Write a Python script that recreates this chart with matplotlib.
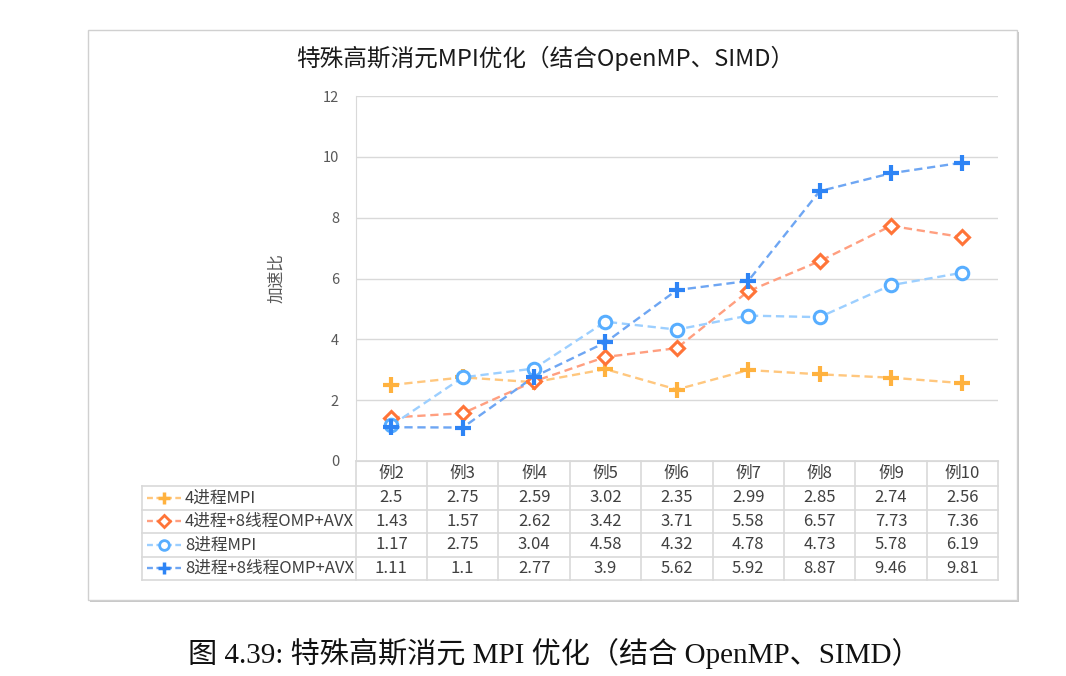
import matplotlib
matplotlib.use("Agg")
import matplotlib.pyplot as plt
from matplotlib.patches import Rectangle
from matplotlib.lines import Line2D

plt.rcParams['font.family'] = ['Noto Sans CJK SC', 'DejaVu Sans']

cases = ["例2", "例3", "例4", "例5", "例6", "例7", "例8", "例9", "例10"]
series_names = ["4进程MPI", "4进程+8线程OMP+AVX", "8进程MPI", "8进程+8线程OMP+AVX"]
mpi4 = [2.5, 2.75, 2.59, 3.02, 2.35, 2.99, 2.85, 2.74, 2.56]
mpi4_omp_avx = [1.43, 1.57, 2.62, 3.42, 3.71, 5.58, 6.57, 7.73, 7.36]
mpi8 = [1.17, 2.75, 3.04, 4.58, 4.32, 4.78, 4.73, 5.78, 6.19]
mpi8_omp_avx = [1.11, 1.1, 2.77, 3.9, 5.62, 5.92, 8.87, 9.46, 9.81]
yticks = [0, 2, 4, 6, 8, 10, 12]

all_series = [mpi4, mpi4_omp_avx, mpi8, mpi8_omp_avx]
marker_colors = ["#FFB23F", "#FF7438", "#58AEFF", "#2E84F5"]
line_colors = ["#FFC77E", "#FF9F80", "#9CCFFF", "#6EA6F3"]
markers = ["P", "D", "o", "P"]
marker_sizes = [11.5, 7.5, 9, 11.5]

W, H = 1066, 676
fig = plt.figure(figsize=(W / 100, H / 100), dpi=100)

def fx(px):
    return px / W

def fy(py):
    return 1 - py / H

grid_c = "#D9D9D9"
text_c = "#404040"

# chart frame (behind everything)
shadow = Rectangle((fx(90), fy(602)), fx(929), 570 / H, transform=fig.transFigure,
                   facecolor="#C8C8C8", edgecolor="none", zorder=-2)
frame = Rectangle((fx(88), fy(600)), fx(929), 570 / H, transform=fig.transFigure,
                  facecolor="white", edgecolor="#D0D0D0", lw=1, zorder=-1)
fig.patches.extend([shadow, frame])

# main plot area
ax_l, ax_r, ax_t, ax_b = 355.7, 998, 96, 461
ax = fig.add_axes([fx(ax_l), fy(ax_b), fx(ax_r - ax_l), (ax_b - ax_t) / H])
ax.set_facecolor("none")
x = list(range(len(cases)))
for vals, mc, lc, mk, ms in zip(all_series, marker_colors, line_colors, markers, marker_sizes):
    ax.plot(x, vals, ls=(0, (3.5, 2)), lw=1.7, color=lc, zorder=3)
    if mk == "P":
        ax.plot(x, vals, ls="none", marker="+", ms=ms, mew=3, color=mc, zorder=4)
    else:
        ax.plot(x, vals, ls="none", marker=mk, ms=ms, mew=2.2, mec=mc, mfc="white", zorder=4)

ax.set_xlim(-0.5, len(cases) - 0.5)
ax.set_ylim(0, 12)
ax.set_yticks(yticks)
ax.set_xticks([])
ax.tick_params(axis="y", length=0, pad=12, labelsize=10.5, labelcolor="#595959")
ax.yaxis.grid(True, color=grid_c, lw=1)
ax.set_axisbelow(True)
for s in ["top", "right"]:
    ax.spines[s].set_visible(False)
ax.spines["left"].set_color(grid_c)
ax.spines["bottom"].set_color(grid_c)
ax.set_ylabel("加速比", fontsize=12, color="#595959")
ax.yaxis.set_label_coords(-(ax_l - 285) / (ax_r - ax_l), 0.5)

# title and caption
fig.text(fx(545), fy(58), "特殊高斯消元MPI优化（结合OpenMP、SIMD）", ha="center", va="center",
         fontsize=17, color="#1a1a1a")
fig.text(fx(554), fy(653), "图 4.39: 特殊高斯消元 MPI 优化（结合 OpenMP、SIMD）", ha="center",
         va="center", fontsize=21, color="#111111",
         family=["Liberation Serif", "Noto Sans CJK SC"])

# data table under the plot
col_w = (ax_r - ax_l) / len(cases)
tb_l, tb_t, tb_b = 142, 461, 580
tax = fig.add_axes([fx(tb_l), fy(tb_b), fx(ax_r - tb_l), (tb_b - tb_t) / H])
left_units = (ax_l - tb_l) / col_w
tax.set_xlim(-0.5 - left_units, len(cases) - 0.5)
hdr = 25 / 23.5
tax.set_ylim(len(all_series), -hdr)
tax.axis("off")

lk = dict(color=grid_c, lw=1.2, clip_on=False)
tax.plot([-0.5, len(cases) - 0.5], [-hdr, -hdr], **lk)
for r in range(len(all_series) + 1):
    tax.plot([-0.5 - left_units, len(cases) - 0.5], [r, r], **lk)
tax.plot([-0.5 - left_units] * 2, [0, len(all_series)], **lk)
for c in range(len(cases) + 1):
    tax.plot([c - 0.5, c - 0.5], [-hdr, len(all_series)], **lk)

for i, name in enumerate(cases):
    tax.text(i, -hdr / 2, name, ha="center", va="center", fontsize=12, color=text_c)

def px2u(px):
    return -0.5 + (px - ax_l) / col_w

for r, (vals, name, mc, lc, mk) in enumerate(zip(all_series, series_names, marker_colors,
                                                 line_colors, markers)):
    yc = r + 0.5
    tax.add_line(Line2D([px2u(147), px2u(181)], [yc, yc], ls=(0, (2.5, 1.5)), lw=1.7, color=lc))
    if mk == "P":
        tax.plot(px2u(164), yc, marker="+", ms=8, mew=2.5, color=mc)
    else:
        tax.plot(px2u(164), yc, marker=mk, ms=6 if mk == "D" else 7, mew=2, mec=mc, mfc="white")
    tax.text(px2u(185), yc, name, ha="left", va="center", fontsize=12, color=text_c)
    for i, v in enumerate(vals):
        tax.text(i, yc, f"{v:g}", ha="center", va="center", fontsize=12, color=text_c)

fig.savefig("out.png", dpi=100)
